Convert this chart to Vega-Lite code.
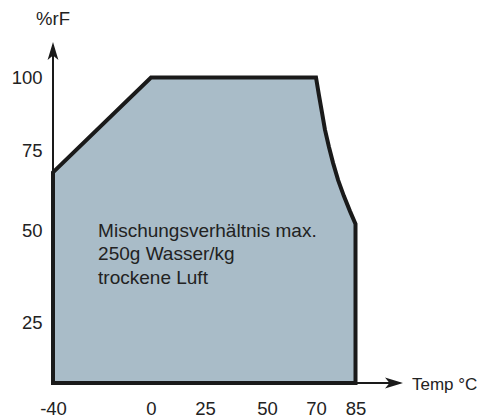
{
  "$schema": "https://vega.github.io/schema/vega-lite/v6.json",
  "autosize": "none",
  "padding": {"left": 52, "top": 42, "right": 0, "bottom": 36},
  "width": 429,
  "height": 341,
  "background": "white",
  "config": {"view": {"stroke": null}, "font": "Liberation Sans"},
  "data": {"values": [{}]},
  "datasets": {
    "envelope": [
      {"temp": -40, "rh": 68},
      {"temp": 0, "rh": 100},
      {"temp": 70, "rh": 100},
      {"temp": 71.1, "rh": 94.0},
      {"temp": 72.3, "rh": 87.8},
      {"temp": 73.4, "rh": 82.0},
      {"temp": 74.9, "rh": 76.1},
      {"temp": 76.5, "rh": 70.9},
      {"temp": 78.4, "rh": 65.6},
      {"temp": 80.6, "rh": 60.6},
      {"temp": 82.9, "rh": 55.9},
      {"temp": 85, "rh": 51.9}
    ]
  },
  "layer": [
    {
      "data": {"name": "envelope"},
      "mark": {"type": "area", "fill": "#a9bcc8", "stroke": "#1a1a1a", "strokeWidth": 4, "strokeJoin": "miter", "opacity": 1},
      "encoding": {
        "x": {
          "field": "temp", "type": "quantitative",
          "scale": {"domain": [-40, 0, 25, 50, 70, 85, 102], "range": [1, 99, 153, 215, 264, 303.5, 351], "zero": false, "nice": false},
          "axis": {"values": [-40, 0, 25, 50, 70, 85], "labelExpr": "toString(datum.value)", "title": null, "domain": false, "ticks": false, "grid": false, "labelFont": "Liberation Sans", "labelFontSize": 18.5, "labelColor": "#222", "labelPadding": 16, "labelFlush": false}
        },
        "y": {
          "field": "rh", "type": "quantitative",
          "scale": {"domain": [0, 25, 50, 75, 100, 112], "range": [341, 280, 188, 108, 35.5, 0], "zero": false, "nice": false},
          "axis": {"values": [25, 50, 75, 100], "title": null, "domain": false, "ticks": false, "grid": false, "labelFont": "Liberation Sans", "labelFontSize": 18.5, "labelColor": "#222", "labelPadding": 10}
        },
        "y2": {"datum": 0}
      }
    },
    {
      "mark": {"type": "rule", "color": "#1a1a1a", "strokeWidth": 2},
      "encoding": {"x": {"datum": -40, "type": "quantitative"}, "y": {"datum": 0, "type": "quantitative"}, "y2": {"datum": 111}}
    },
    {
      "mark": {"type": "rule", "color": "#1a1a1a", "strokeWidth": 2},
      "encoding": {"x": {"datum": -40, "type": "quantitative"}, "x2": {"datum": 101}, "y": {"datum": 0, "type": "quantitative"}}
    },
    {
      "mark": {"type": "point", "shape": "M0,0L0.3,1L0,0.75L-0.3,1Z", "size": 1296, "filled": true, "color": "#1a1a1a", "opacity": 1},
      "encoding": {"x": {"datum": -40, "type": "quantitative"}, "y": {"datum": 112, "type": "quantitative"}}
    },
    {
      "mark": {"type": "point", "shape": "M0,0L0.3,1L0,0.75L-0.3,1Z", "size": 1296, "filled": true, "color": "#1a1a1a", "opacity": 1, "angle": 90},
      "encoding": {"x": {"datum": 102, "type": "quantitative"}, "y": {"datum": 0, "type": "quantitative"}}
    },
    {
      "mark": {"type": "text", "text": "%rF", "font": "Liberation Sans", "fontSize": 18.5, "color": "#222", "align": "center", "baseline": "alphabetic", "dy": -17},
      "encoding": {"x": {"datum": -40, "type": "quantitative"}, "y": {"datum": 112, "type": "quantitative"}}
    },
    {
      "mark": {"type": "text", "text": "Temp °C", "font": "Liberation Sans", "fontSize": 17, "color": "#222", "align": "left", "baseline": "alphabetic", "dx": 9, "dy": 7},
      "encoding": {"x": {"datum": 102, "type": "quantitative"}, "y": {"datum": 0, "type": "quantitative"}}
    },
    {
      "mark": {"type": "text", "text": ["Mischungsverhältnis max.", "250g Wasser/kg", "trockene Luft"], "font": "Liberation Sans", "fontSize": 19, "lineHeight": 23.5, "color": "#222", "align": "left", "baseline": "alphabetic"},
      "encoding": {"x": {"datum": -21.6, "type": "quantitative"}, "y": {"datum": 48.1, "type": "quantitative"}}
    }
  ]
}
